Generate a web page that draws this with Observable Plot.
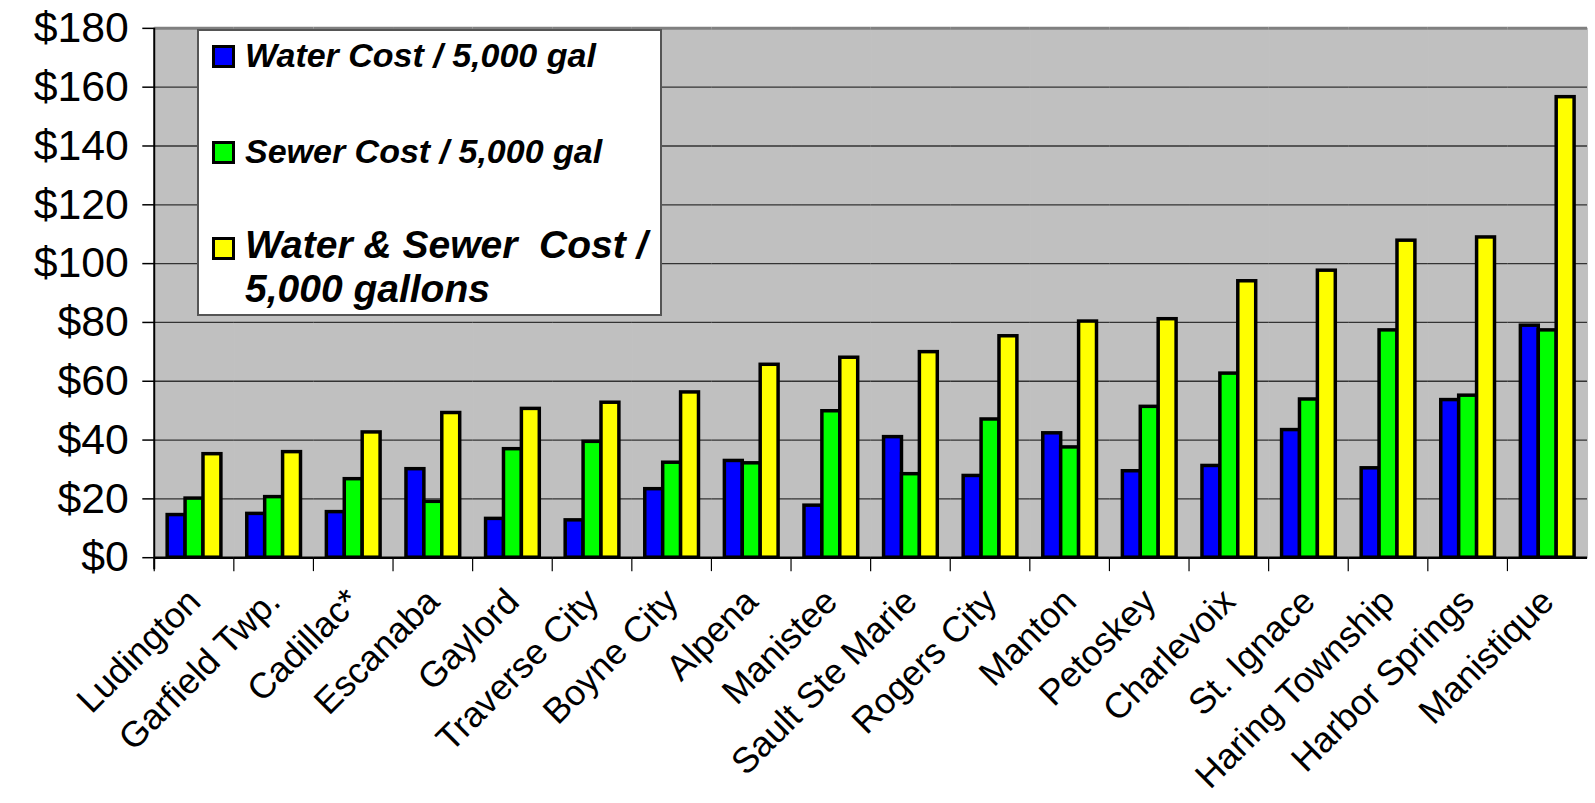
<!DOCTYPE html>
<html><head><meta charset="utf-8">
<script src="https://cdn.jsdelivr.net/npm/d3@7"></script>
<script src="https://cdn.jsdelivr.net/npm/@observablehq/plot@0.6"></script>
<style>
html,body{margin:0;padding:0;overflow:hidden;background:#fff;}
#wrap{position:relative;width:1595px;height:803px;overflow:hidden;}
#legend{position:absolute;left:197px;top:29px;width:465px;height:287px;background:#fff;border:2px solid #555;box-sizing:border-box;font-family:'Liberation Sans',Arial,sans-serif;font-weight:bold;font-style:italic;color:#000;}
.sw{position:absolute;width:23px;height:23px;border:3px solid #000;box-sizing:border-box;}
.lt{position:absolute;white-space:pre;}
</style></head><body><div id="wrap"></div>
<script>
const cities = ["Ludington","Garfield Twp.","Cadillac*","Escanaba","Gaylord","Traverse City","Boyne City","Alpena","Manistee","Sault Ste Marie","Rogers City","Manton","Petoskey","Charlevoix","St. Ignace","Haring Township","Harbor Springs","Manistique"];
const water = [14.5, 14.9, 15.5, 30.1, 13.2, 12.7, 23.3, 32.9, 17.7, 41.0, 27.8, 42.3, 29.4, 31.2, 43.4, 30.4, 53.6, 78.9];
const sewer = [20.1, 20.6, 26.7, 19.0, 36.9, 39.4, 32.3, 32.1, 49.8, 28.4, 47.0, 37.5, 51.3, 62.6, 53.8, 77.3, 55.1, 77.3];
const total = [35.2, 35.9, 42.6, 49.2, 50.6, 52.7, 56.2, 65.6, 68.0, 69.9, 75.3, 80.3, 81.1, 94.0, 97.6, 107.8, 108.9, 156.6];
const seriesKeys = ["water","sewer","total"];
const seriesLabels = ["Water Cost / 5,000 gal","Sewer Cost / 5,000 gal","Water & Sewer  Cost /\n5,000 gallons"];
const seriesColors = ["#0000FF","#00FF00","#FFFF00"];
const yTicks = [0,20,40,60,80,100,120,140,160,180];

const valuesBySeries = {water, sewer, total};
const rows = cities.flatMap((c,i)=>seriesKeys.map(k=>({city:c, series:k, value:valuesBySeries[k][i]})));

const plot = Plot.plot({
  width:1603, height:803, marginLeft:147, marginRight:0, marginTop:28, marginBottom:243,
  style:{fontFamily:"'Liberation Sans', Arial, sans-serif", background:"transparent", color:"black"},
  fx:{domain:cities, padding:0, label:null},
  x:{domain:seriesKeys, paddingInner:0, paddingOuter:0.667, axis:null},
  y:{domain:[0,180], axis:null},
  color:{domain:seriesKeys, range:seriesColors},
  marks:[
    Plot.frame({fill:"#C0C0C0", stroke:"#C0C0C0"}),
    Plot.ruleY(yTicks.slice(1,-1), {stroke:"#333", strokeWidth:1.3}),
    Plot.ruleY([180], {stroke:"#808080", strokeWidth:3}),
    Plot.barY(rows, {fx:"city", x:"series", y:"value", fill:"series", stroke:"black", strokeWidth:3.5, inset:0}),
    Plot.ruleY([0], {stroke:"black", strokeWidth:2.5}),
    Plot.axisY({ticks:yTicks, tickFormat:d=>"$"+d, tickSize:12, tickPadding:14, fontSize:43, label:null, strokeWidth:1.5}),
    Plot.axisFx({anchor:"bottom", tickRotate:-45, tickSize:0, tickPadding:38, fontSize:36, label:null})
  ]
});
const wrap = document.getElementById("wrap");
wrap.appendChild(plot);

// axis line and group-boundary ticks, placed with the plot's own scales
const ys = plot.scale("y"), fxs = plot.scale("fx");
const svg = d3.select(plot);
const y0 = ys.apply(0), y1 = ys.apply(180);
const left = fxs.apply(cities[0]);
svg.append("line").attr("x1",left).attr("x2",left).attr("y1",y1).attr("y2",y0+12).attr("stroke","black").attr("stroke-width",2);
cities.forEach(c=>{
  const x = fxs.apply(c);
  svg.append("line").attr("x1",x).attr("x2",x).attr("y1",y0).attr("y2",y0+14).attr("stroke","black").attr("stroke-width",1.2);
});

// legend
const lg = document.createElement("div"); lg.id="legend"; wrap.appendChild(lg);
const specs = [
  {sw:14, tt:7, fs:34, lh:34},
  {sw:110, tt:103, fs:34, lh:34},
  {sw:206, tt:192, fs:39, lh:44}
];
seriesKeys.forEach((k,i)=>{
  const s = document.createElement("div"); s.className="sw";
  s.style.left="13px"; s.style.top=specs[i].sw+"px"; s.style.background=seriesColors[i];
  lg.appendChild(s);
  const t = document.createElement("div"); t.className="lt";
  t.style.left="46px"; t.style.top=specs[i].tt+"px"; t.style.fontSize=specs[i].fs+"px"; t.style.lineHeight=specs[i].lh+"px";
  t.textContent = seriesLabels[i];
  lg.appendChild(t);
});
</script></body></html>
